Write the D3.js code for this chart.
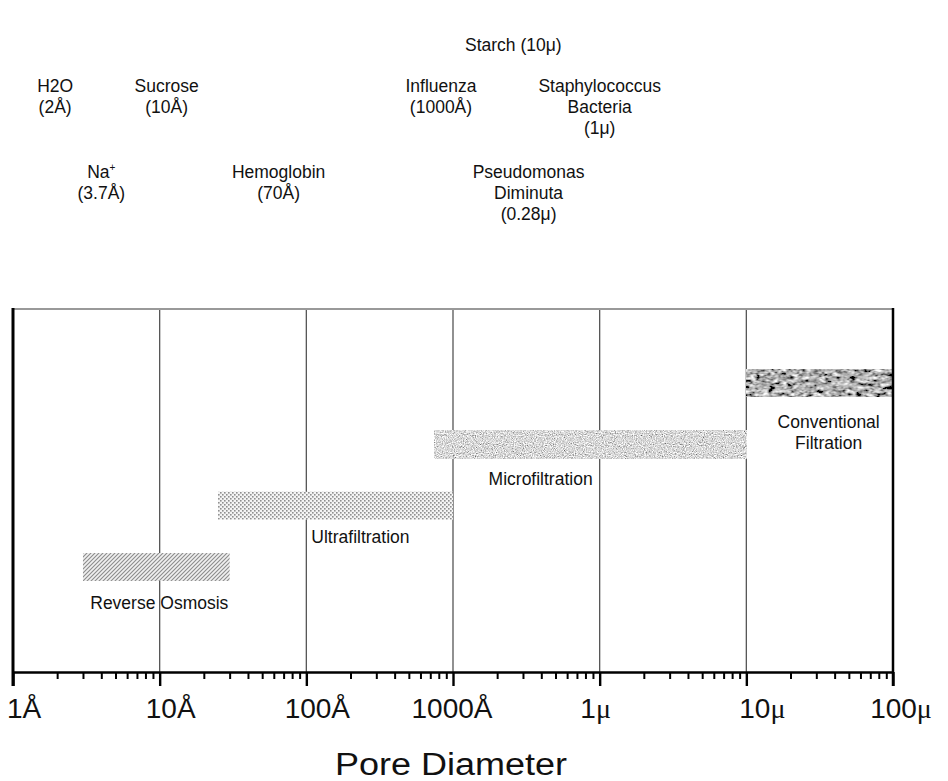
<!DOCTYPE html>
<html>
<head>
<meta charset="utf-8">
<script src="https://cdn.jsdelivr.net/npm/d3@7"></script>
<style>
  body { margin: 0; background: #fff; }
  text { font-family: "Liberation Sans", Arial, sans-serif; fill: #111; }
</style>
</head>
<body>
<script>
/* Data */

// decades on the pore-size axis, in Angstrom
var decades = [1, 10, 100, 1000, 1e4, 1e5, 1e6];
var tickLabels = ["1Å", "10Å", "100Å", "1000Å", "1μ", "10μ", "100μ"];

// separation processes and their size range (Angstrom)
var processes = ["Reverse Osmosis", "Ultrafiltration", "Microfiltration", "Conventional Filtration"];
var processMin = [3, 25, 750, 1e5];
var processMax = [30, 1000, 1e5, 1e6];

// particles marked above the chart
var solutes = ["H2O", "Na+", "Sucrose", "Hemoglobin", "Influenza", "Pseudomonas Diminuta", "Staphylococcus Bacteria", "Starch"];
var soluteSize = [2, 3.7, 10, 70, 1000, 2800, 1e4, 1e5];
var soluteSizeText = ["(2Å)", "(3.7Å)", "(10Å)", "(70Å)", "(1000Å)", "(0.28μ)", "(1μ)", "(10μ)"];


/* Layout */

var width = 948, height = 781;
var plotTop = 309, axisY = 672;

var svg = d3.select("body").append("svg")
    .attr("width", width)
    .attr("height", height);

var x = d3.scaleLog()
    .domain([1, 1e6])
    .range([13, 893]);

var y = d3.scalePoint()
    .domain(processes)
    .range([567, 383]);

var barH = 28;

/* textures */
var defs = svg.append("defs");

var hatch = defs.append("pattern").attr("id", "hatch")
    .attr("width", 4).attr("height", 4).attr("patternUnits", "userSpaceOnUse");
hatch.append("rect").attr("width", 4).attr("height", 4).attr("fill", "#f0f0f0");
hatch.append("path").attr("d", "M-1,1 l2,-2 M0,4 l4,-4 M3,5 l2,-2")
    .attr("stroke", "#8c8c8c").attr("stroke-width", 1.1);

var dots = defs.append("pattern").attr("id", "dots")
    .attr("width", 4).attr("height", 4).attr("patternUnits", "userSpaceOnUse");
dots.append("rect").attr("width", 4).attr("height", 4).attr("fill", "#f4f4f4");
dots.append("rect").attr("x", 0).attr("y", 0).attr("width", 1.6).attr("height", 1.6).attr("fill", "#8f8f8f");
dots.append("rect").attr("x", 2).attr("y", 2).attr("width", 1.6).attr("height", 1.6).attr("fill", "#8f8f8f");

var grain = defs.append("filter").attr("id", "grain")
    .attr("x", 0).attr("y", 0).attr("width", 1).attr("height", 1);
grain.append("feTurbulence").attr("type", "fractalNoise")
    .attr("baseFrequency", "0.9").attr("numOctaves", 2).attr("seed", 4);
grain.append("feColorMatrix").attr("type", "matrix")
    .attr("values", "0.33 0.33 0.33 0 0  0.33 0.33 0.33 0 0  0.33 0.33 0.33 0 0  0 0 0 0 1");
var gct = grain.append("feComponentTransfer");
["feFuncR", "feFuncG", "feFuncB"].forEach(function(f) {
    gct.append(f).attr("type", "linear").attr("slope", 2.4).attr("intercept", -0.5);
});

var blotch = defs.append("filter").attr("id", "blotch")
    .attr("x", 0).attr("y", 0).attr("width", 1).attr("height", 1);
blotch.append("feTurbulence").attr("type", "fractalNoise")
    .attr("baseFrequency", "0.16 0.3").attr("numOctaves", 2).attr("seed", 7);
blotch.append("feColorMatrix").attr("type", "matrix")
    .attr("values", "0.33 0.33 0.33 0 0  0.33 0.33 0.33 0 0  0.33 0.33 0.33 0 0  0 0 0 0 1");
var bct = blotch.append("feComponentTransfer");
["feFuncR", "feFuncG", "feFuncB"].forEach(function(f) {
    bct.append(f).attr("type", "linear").attr("slope", 3.4).attr("intercept", -1.25);
});

var fills = ["url(#hatch)", "url(#dots)", "#999", "#555"];
var filters = [null, null, "url(#grain)", "url(#blotch)"];


/* grid and frame */

svg.append("g").selectAll("line")
    .data(decades.slice(1, -1))
    .enter().append("line")
    .attr("x1", function(d) { return x(d); })
    .attr("x2", function(d) { return x(d); })
    .attr("y1", plotTop)
    .attr("y2", axisY)
    .attr("stroke", "#555")
    .attr("stroke-width", 1.3);

svg.append("line")
    .attr("x1", x(1)).attr("x2", x(1e6))
    .attr("y1", plotTop).attr("y2", plotTop)
    .attr("stroke", "#999").attr("stroke-width", 2);


/* bars */

var bars = svg.append("g").selectAll("rect")
    .data(processes)
    .enter().append("rect")
    .attr("x", function(d, i) { return x(processMin[i]); })
    .attr("y", function(d) { return y(d) - barH / 2; })
    .attr("width", function(d, i) { return x(processMax[i]) - x(processMin[i]); })
    .attr("height", barH)
    .attr("fill", function(d, i) { return fills[i]; })
    .attr("filter", function(d, i) { return filters[i]; });

// label placement under each bar
var labelPos = [
    { x: function(i) { return (x(processMin[i]) + x(processMax[i])) / 2 + 3; }, anchor: "middle", dy: 42 },
    { x: function(i) { return x(100) + 5; }, anchor: "start", dy: 37 },
    { x: function(i) { return x(1e4) - 7; }, anchor: "end", dy: 41 },
    { x: function(i) { return (x(processMin[i]) + x(processMax[i])) / 2 + 9; }, anchor: "middle", dy: 45 }
];

svg.append("g").selectAll("text")
    .data(processes)
    .enter().append("text")
    .attr("x", function(d, i) { return labelPos[i].x(i); })
    .attr("y", function(d, i) { return y(d) + labelPos[i].dy; })
    .attr("text-anchor", function(d, i) { return labelPos[i].anchor; })
    .attr("font-size", 17.5)
    .each(function(d) {
        var words = d === "Conventional Filtration" ? ["Conventional", "Filtration"] : [d];
        var t = d3.select(this);
        var x0 = t.attr("x");
        words.forEach(function(w, k) {
            t.append("tspan").attr("x", x0).attr("dy", k === 0 ? 0 : 21).text(w);
        });
    });


/* axis */

var majorAxis = d3.axisBottom(x)
    .tickValues(decades)
    .tickSize(14)
    .tickSizeOuter(0)
    .tickFormat("");

var gMajor = svg.append("g")
    .attr("transform", "translate(0," + axisY + ")")
    .call(majorAxis);
gMajor.select(".domain").attr("stroke", "#000").attr("stroke-width", 2.6);
gMajor.selectAll(".tick line").attr("stroke", "#000").attr("stroke-width", 2.4);

var minorVals = x.ticks().filter(function(v) { return decades.indexOf(v) < 0; });
var gMinor = svg.append("g")
    .attr("transform", "translate(0," + axisY + ")")
    .call(d3.axisBottom(x).tickValues(minorVals).tickSize(7).tickFormat(""));
gMinor.select(".domain").remove();
gMinor.selectAll(".tick line").attr("stroke", "#000").attr("stroke-width", 2);

// left and right frame edges
svg.append("line")
    .attr("x1", x(1)).attr("x2", x(1))
    .attr("y1", plotTop - 1).attr("y2", axisY + 14)
    .attr("stroke", "#000").attr("stroke-width", 3);
svg.append("line")
    .attr("x1", x(1e6)).attr("x2", x(1e6))
    .attr("y1", plotTop - 1).attr("y2", axisY + 14)
    .attr("stroke", "#000").attr("stroke-width", 2.5);

// tick labels
var tickDx = [11, 11, 11, -1, -4, 16, 8];
svg.append("g").selectAll("text")
    .data(decades)
    .enter().append("text")
    .attr("x", function(d, i) { return x(d) + tickDx[i]; })
    .attr("y", 718)
    .attr("text-anchor", "middle")
    .attr("font-size", 28)
    .each(function(d, i) {
        var lab = tickLabels[i];
        var t = d3.select(this);
        if (lab.indexOf("μ") >= 0) {
            t.append("tspan").text(lab.replace("μ", ""));
            t.append("tspan").attr("font-family", "Liberation Serif, serif").text("μ");
        } else {
            t.text(lab);
        }
    });

svg.append("text")
    .attr("x", 451)
    .attr("y", 775)
    .attr("text-anchor", "middle")
    .attr("font-size", 31)
    .attr("textLength", 232)
    .attr("lengthAdjust", "spacingAndGlyphs")
    .text("Pore Diameter");


/* solute annotations */

var soluteNudge = [-2, 5, 7, -5, -12, 10, 0, -233];
var soluteRowY = [92, 178, 92, 178, 92, 178, 92, 51];

var ann = svg.append("g").selectAll("text")
    .data(solutes)
    .enter().append("text")
    .attr("x", function(d, i) { return x(soluteSize[i]) + soluteNudge[i]; })
    .attr("y", function(d, i) { return soluteRowY[i]; })
    .attr("text-anchor", "middle")
    .attr("font-size", 17.5);

ann.each(function(d, i) {
    var t = d3.select(this);
    var x0 = t.attr("x");
    if (d === "Starch") {
        t.text(d + " " + soluteSizeText[i]);
        return;
    }
    var lines = d.split(" ");
    lines.forEach(function(w, k) {
        var sp = t.append("tspan").attr("x", x0).attr("dy", k === 0 ? 0 : 21);
        if (w === "Na+") {
            sp.text("Na");
            sp.append("tspan").attr("font-size", 10).attr("dy", -7).text("+");
        } else {
            sp.text(w);
        }
    });
    t.append("tspan").attr("x", x0).attr("dy", d === "Na+" ? 28 : 21).text(soluteSizeText[i]);
});
</script>
</body>
</html>
